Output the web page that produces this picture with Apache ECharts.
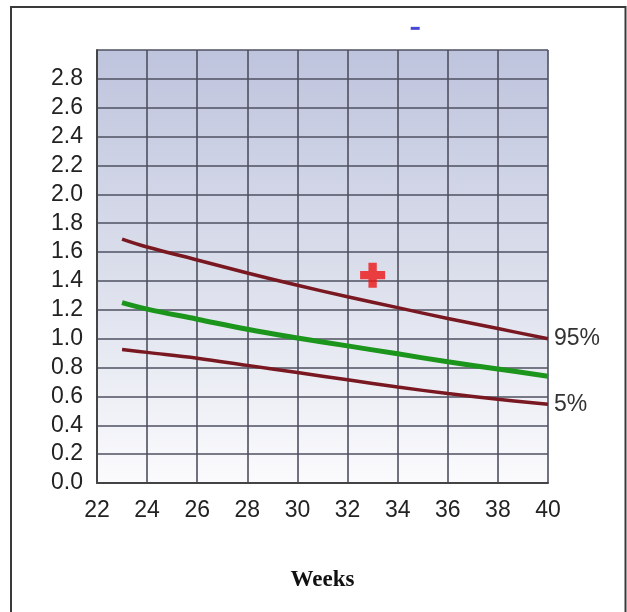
<!DOCTYPE html>
<html>
<head>
<meta charset="utf-8">
<script src="https://cdn.jsdelivr.net/npm/echarts@6/dist/echarts.min.js"></script>
<style>
html,body{margin:0;padding:0;background:#fff;}
#c{width:627px;height:612px;}
</style>
</head>
<body>
<div id="c"></div>
<script>
var weeks = [23, 24, 26, 28, 30, 32, 34, 36, 38, 40];
var p95 = [1.69, 1.635, 1.545, 1.455, 1.37, 1.29, 1.215, 1.14, 1.07, 1.0];
var p50 = [1.25, 1.205, 1.135, 1.065, 1.005, 0.95, 0.895, 0.84, 0.79, 0.74];
var p5 = [0.925, 0.905, 0.865, 0.815, 0.765, 0.715, 0.665, 0.62, 0.58, 0.545];
var measured = [[33, 1.44]];
var blueMark = [[34.7, 3.15]];
var xTicks = [22, 24, 26, 28, 30, 32, 34, 36, 38, 40];

function pairs(xs, ys) { return xs.map(function (x, i) { return [x, ys[i]]; }); }

var chart = echarts.init(document.getElementById('c'));
var font = '"Liberation Sans", Arial, sans-serif';
var gridLine = '#4e5060';
chart.setOption({
  animation: false,
  graphic: [{
    type: 'polyline',
    shape: { points: [[11, 612], [11, 7], [625.5, 7], [625.5, 612]] },
    style: { stroke: '#3a3a3a', lineWidth: 2, fill: null }
  }],
  grid: {
    left: 97, right: 79, top: 50, bottom: 129,
    show: true,
    borderWidth: 0,
    backgroundColor: {
      type: 'linear', x: 0, y: 0, x2: 0, y2: 1,
      colorStops: [
        { offset: 0, color: '#bfc4de' },
        { offset: 0.5, color: '#dadeeb' },
        { offset: 1, color: '#fbfbfd' }
      ]
    }
  },
  xAxis: {
    type: 'value', min: 22, max: 40, interval: 2,
    name: 'Weeks', nameLocation: 'middle', nameGap: 86,
    nameTextStyle: { fontFamily: '"Liberation Serif", "Times New Roman", serif', fontWeight: 'bold', fontSize: 23, color: '#111' },
    axisLine: { show: true, lineStyle: { color: '#444', width: 2 } },
    axisTick: { show: false },
    axisLabel: { fontFamily: font, fontSize: 23, color: '#222', margin: 16,
      formatter: function (v) { return xTicks.indexOf(v) >= 0 ? String(v) : ''; } },
    splitLine: { show: true, lineStyle: { color: gridLine, width: 1.6 } }
  },
  yAxis: {
    type: 'value', min: 0, max: 3.0, interval: 0.2,
    axisLine: { show: true, lineStyle: { color: '#444', width: 2 } },
    axisTick: { show: false },
    axisLabel: { fontFamily: font, fontSize: 23, color: '#222', margin: 14,
      formatter: function (v) { return v > 2.85 ? '' : v.toFixed(1); } },
    splitLine: { show: true, lineStyle: { color: gridLine, width: 1.6 } }
  },
  series: [
    { name: '95%', type: 'line', data: pairs(weeks, p95), smooth: 0.4, symbol: 'none',
      lineStyle: { color: '#7a1822', width: 3.5 },
      endLabel: { show: true, formatter: '{a}', fontFamily: font, fontSize: 23, color: '#333', offset: [-2, 0] } },
    { name: '50%', type: 'line', data: pairs(weeks, p50), smooth: 0.4, symbol: 'none',
      lineStyle: { color: '#1b951b', width: 5 } },
    { name: '5%', type: 'line', data: pairs(weeks, p5), smooth: 0.4, symbol: 'none',
      lineStyle: { color: '#7a1822', width: 3.5 },
      endLabel: { show: true, formatter: '{a}', fontFamily: font, fontSize: 23, color: '#333', offset: [-2, 0] } },
    { name: 'measured', type: 'scatter', data: measured, symbol: 'path://M2,0 H4 V2 H6 V4 H4 V6 H2 V4 H0 V2 H2 Z',
      symbolSize: 25, itemStyle: { color: '#ee1414' } },
    { name: 'blue', type: 'scatter', data: blueMark, clip: false, symbol: 'rect', symbolSize: [9, 3],
      itemStyle: { color: '#1a1ac8' } }
  ]
});
</script>
</body>
</html>
